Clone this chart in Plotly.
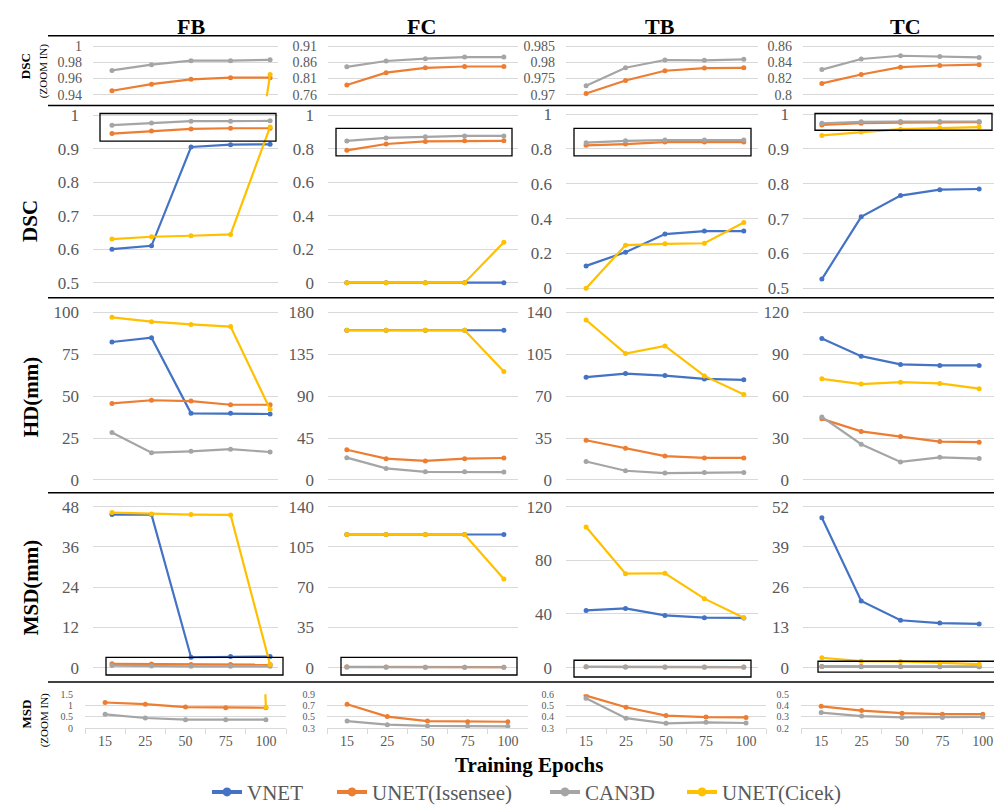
import plotly.graph_objects as go

W, H = 1002, 807

# ---------------- data ----------------
epochs = ["15", "25", "50", "75", "100"]
models = ["VNET", "UNET(Issensee)", "CAN3D", "UNET(Cicek)"]
colors = ["#4472C4", "#ED7D31", "#A5A5A5", "#FFC000"]
regions = ["FB", "FC", "TB", "TC"]

# DSC
dsc_fb_vnet = [0.600, 0.610, 0.905, 0.912, 0.913]
dsc_fb_unet_is = [0.945, 0.953, 0.959, 0.961, 0.961]
dsc_fb_can3d = [0.970, 0.977, 0.982, 0.982, 0.983]
dsc_fb_unet_ci = [0.630, 0.637, 0.640, 0.644, 0.965]

dsc_fc_vnet = [0.0, 0.0, 0.0, 0.0, 0.0]
dsc_fc_unet_is = [0.790, 0.828, 0.843, 0.847, 0.847]
dsc_fc_can3d = [0.846, 0.864, 0.871, 0.876, 0.876]
dsc_fc_unet_ci = [0.0, 0.0, 0.0, 0.0, 0.241]

dsc_tb_vnet = [0.128, 0.207, 0.311, 0.328, 0.328]
dsc_tb_unet_is = [0.821, 0.828, 0.840, 0.840, 0.840]
dsc_tb_can3d = [0.836, 0.847, 0.851, 0.851, 0.851]
dsc_tb_unet_ci = [0.0, 0.247, 0.255, 0.258, 0.377]

dsc_tc_vnet = [0.526, 0.705, 0.766, 0.783, 0.785]
dsc_tc_unet_is = [0.969, 0.974, 0.976, 0.977, 0.977]
dsc_tc_can3d = [0.974, 0.978, 0.979, 0.979, 0.979]
dsc_tc_unet_ci = [0.939, 0.949, 0.957, 0.960, 0.963]

# DSC zoom-in panels for TB and TC (values as drawn in the zoom row)
dsc_zoom_tb_unet_is = [0.9704, 0.9744, 0.9774, 0.9782, 0.9783]
dsc_zoom_tb_can3d = [0.9728, 0.9783, 0.9807, 0.9806, 0.9809]
dsc_zoom_tc_unet_is = [0.814, 0.825, 0.834, 0.836, 0.837]
dsc_zoom_tc_can3d = [0.831, 0.844, 0.848, 0.847, 0.846]

# HD (mm)
hd_fb_vnet = [82.4, 84.9, 39.8, 39.8, 39.4]
hd_fb_unet_is = [45.7, 47.6, 47.1, 44.9, 44.9]
hd_fb_can3d = [28.4, 16.3, 17.1, 18.4, 16.7]
hd_fb_unet_ci = [97.1, 94.5, 92.9, 91.6, 42.2]

hd_fc_vnet = [160.9, 160.9, 160.9, 160.9, 160.9]
hd_fc_unet_is = [32.5, 22.9, 20.5, 22.9, 23.6]
hd_fc_can3d = [24.0, 12.4, 8.8, 8.8, 8.5]
hd_fc_unet_ci = [160.9, 160.9, 160.9, 160.9, 116.5]

hd_tb_vnet = [85.9, 88.9, 87.3, 84.5, 83.7]
hd_tb_unet_is = [33.2, 26.6, 20.0, 18.4, 18.4]
hd_tb_can3d = [15.4, 7.7, 5.8, 6.3, 6.3]
hd_tb_unet_ci = [133.7, 105.7, 112.0, 87.0, 71.4]

hd_tc_vnet = [101.4, 88.7, 82.8, 82.1, 82.1]
hd_tc_unet_is = [43.8, 34.8, 31.1, 27.5, 27.1]
hd_tc_can3d = [45.2, 25.6, 12.9, 16.2, 15.3]
hd_tc_unet_ci = [72.5, 68.7, 70.1, 69.2, 65.4]

# MSD (mm)
msd_fb_vnet = [45.6, 45.6, 3.1, 3.3, 3.3]
msd_fb_unet_is = [1.136, 1.063, 0.932, 0.903, 0.903]
msd_fb_can3d = [0.612, 0.451, 0.379, 0.379, 0.379]
msd_fb_unet_ci = [46.2, 45.8, 45.6, 45.5, 0.92]

msd_fc_vnet = [115.7, 115.7, 115.7, 115.7, 115.7]
msd_fc_unet_is = [0.723, 0.506, 0.426, 0.414, 0.414]
msd_fc_can3d = [0.426, 0.363, 0.340, 0.334, 0.334]
msd_fc_unet_ci = [115.7, 115.7, 115.7, 115.7, 77.1]

msd_tb_vnet = [42.6, 44.1, 38.9, 37.2, 37.0]
msd_tb_unet_is = [0.588, 0.485, 0.412, 0.398, 0.395]
msd_tb_can3d = [0.565, 0.389, 0.343, 0.352, 0.346]
msd_tb_unet_ci = [104.8, 70.0, 70.3, 51.4, 37.2]

msd_tc_vnet = [48.4, 21.5, 15.3, 14.4, 14.1]
msd_tc_unet_is = [0.393, 0.356, 0.333, 0.324, 0.324]
msd_tc_can3d = [0.338, 0.307, 0.295, 0.295, 0.300]
msd_tc_unet_ci = [3.2, 2.1, 2.0, 1.6, 1.1]

# y tick values per panel (row x column)
y_ticks = [
    [[0.94, 0.96, 0.98, 1], [0.76, 0.81, 0.86, 0.91], [0.97, 0.975, 0.98, 0.985], [0.8, 0.82, 0.84, 0.86]],
    [[0.5, 0.6, 0.7, 0.8, 0.9, 1], [0, 0.2, 0.4, 0.6, 0.8, 1], [0, 0.2, 0.4, 0.6, 0.8, 1], [0.5, 0.6, 0.7, 0.8, 0.9, 1]],
    [[0, 25, 50, 75, 100], [0, 45, 90, 135, 180], [0, 35, 70, 105, 140], [0, 30, 60, 90, 120]],
    [[0, 12, 24, 36, 48], [0, 35, 70, 105, 140], [0, 40, 80, 120], [0, 13, 26, 39, 52]],
    [[0, 0.5, 1, 1.5], [0.3, 0.5, 0.7, 0.9], [0.3, 0.4, 0.5, 0.6], [0.2, 0.3, 0.4, 0.5]],
]

row_data = [
    [
        [dsc_fb_vnet, dsc_fb_unet_is, dsc_fb_can3d, dsc_fb_unet_ci],
        [dsc_fc_vnet, dsc_fc_unet_is, dsc_fc_can3d, dsc_fc_unet_ci],
        [None, dsc_zoom_tb_unet_is, dsc_zoom_tb_can3d, None],
        [None, dsc_zoom_tc_unet_is, dsc_zoom_tc_can3d, None],
    ],
    [
        [dsc_fb_vnet, dsc_fb_unet_is, dsc_fb_can3d, dsc_fb_unet_ci],
        [dsc_fc_vnet, dsc_fc_unet_is, dsc_fc_can3d, dsc_fc_unet_ci],
        [dsc_tb_vnet, dsc_tb_unet_is, dsc_tb_can3d, dsc_tb_unet_ci],
        [dsc_tc_vnet, dsc_tc_unet_is, dsc_tc_can3d, dsc_tc_unet_ci],
    ],
    [
        [hd_fb_vnet, hd_fb_unet_is, hd_fb_can3d, hd_fb_unet_ci],
        [hd_fc_vnet, hd_fc_unet_is, hd_fc_can3d, hd_fc_unet_ci],
        [hd_tb_vnet, hd_tb_unet_is, hd_tb_can3d, hd_tb_unet_ci],
        [hd_tc_vnet, hd_tc_unet_is, hd_tc_can3d, hd_tc_unet_ci],
    ],
    [
        [msd_fb_vnet, msd_fb_unet_is, msd_fb_can3d, msd_fb_unet_ci],
        [msd_fc_vnet, msd_fc_unet_is, msd_fc_can3d, msd_fc_unet_ci],
        [msd_tb_vnet, msd_tb_unet_is, msd_tb_can3d, msd_tb_unet_ci],
        [msd_tc_vnet, msd_tc_unet_is, msd_tc_can3d, msd_tc_unet_ci],
    ],
    [
        [msd_fb_vnet, msd_fb_unet_is, msd_fb_can3d, msd_fb_unet_ci],
        [msd_fc_vnet, msd_fc_unet_is, msd_fc_can3d, msd_fc_unet_ci],
        [msd_tb_vnet, msd_tb_unet_is, msd_tb_can3d, msd_tb_unet_ci],
        [msd_tc_vnet, msd_tc_unet_is, msd_tc_can3d, msd_tc_unet_ci],
    ],
]

# ---------------- layout geometry (pixels) ----------------
def fx(v):
    return v / W

def fy(v):
    return 1 - v / H

x_dom_main = [(85, 270), (320, 510), (558, 750), (795, 990)]
x_rng_main = [(-0.48, 4.2), (-0.48, 4.36), (-0.51, 4.36), (-0.48, 4.48)]
x_dom_bottom = [(77, 278), (319, 520), (558, 758), (793, 995)]
y_dom = [
    [(32.5, 82)] * 4,
    [(102.7, 272.7), (102.7, 272.7), (101.7, 278.3), (101.7, 278.3)],
    [(303, 473)] * 4,
    [(500, 663.5)] * 4,
    [(690.5, 725)] * 4,
]
tick_font_size = [14, 17, 17, 17, 10]
tick_standoff = [10, 13, 13, 13, 11]

SERIF = "Liberation Serif"
GRAY_TXT = "#595959"
GRID = "#D9D9D9"

fig = go.Figure()
layout = dict(
    width=W, height=H,
    margin=dict(l=0, r=0, t=0, b=0),
    paper_bgcolor="white", plot_bgcolor="white",
    showlegend=True,
)

for r in range(5):
    for c in range(4):
        idx = r * 4 + c + 1
        xa = "x" if idx == 1 else f"x{idx}"
        ya = "y" if idx == 1 else f"y{idx}"
        ticks = y_ticks[r][c]
        lo, hi = ticks[0], ticks[-1]
        span = hi - lo
        top_px, bot_px = y_dom[r][c]
        pad = 0.03 if r < 4 else 0.0
        hpx = bot_px - top_px
        dom_top = top_px - pad * hpx
        dom_bot = bot_px + pad * hpx
        yax = dict(
            domain=[fy(dom_bot), fy(dom_top)],
            range=[lo - pad * span, hi + pad * span],
            anchor=xa,
            tickmode="array",
            tickvals=ticks,
            ticktext=[f"{v:g}" for v in ticks],
            showgrid=True, gridcolor=GRID, gridwidth=1,
            zeroline=False, showline=False, ticks="",
            tickfont=dict(family=SERIF, size=tick_font_size[r], color=GRAY_TXT),
            ticklabelstandoff=tick_standoff[r],
            fixedrange=True,
        )
        if r < 4:
            x0, x1 = x_dom_main[c]
            xr = x_rng_main[c]
            xax = dict(
                domain=[fx(x0), fx(x1)], range=list(xr), anchor=ya,
                type="category", categoryorder="array", categoryarray=epochs,
                visible=False, showgrid=False, zeroline=False, fixedrange=True,
            )
        else:
            x0, x1 = x_dom_bottom[c]
            xax = dict(
                domain=[fx(x0), fx(x1)], range=[-0.5, 4.5], anchor=ya,
                type="category", categoryorder="array", categoryarray=epochs,
                showgrid=False, zeroline=False,
                showline=True, linecolor=GRID, linewidth=1,
                ticks="outside", tickson="boundaries", ticklen=5, tickcolor=GRID,
                tickfont=dict(family=SERIF, size=14, color=GRAY_TXT),
                ticklabelstandoff=0,
                fixedrange=True,
            )
        layout["xaxis" if idx == 1 else f"xaxis{idx}"] = xax
        layout["yaxis" if idx == 1 else f"yaxis{idx}"] = yax

        for m in range(4):
            vals = row_data[r][c][m]
            if vals is None:
                continue
            fig.add_trace(go.Scatter(
                x=epochs, y=vals, xaxis=xa, yaxis=ya,
                mode="lines+markers",
                line=dict(color=colors[m], width=2.2),
                marker=dict(color=colors[m], size=5),
                name=models[m], showlegend=False, hoverinfo="skip",
            ))

# legend entries (one legend per item, placed like the reference)
legend_px = [199, 324, 537, 674]
for m in range(4):
    lname = "legend" if m == 0 else f"legend{m + 1}"
    fig.add_trace(go.Scatter(
        x=[None], y=[None], xaxis="x", yaxis="y",
        mode="lines+markers",
        line=dict(color=colors[m], width=4),
        marker=dict(color=colors[m], size=9),
        name=models[m], showlegend=True, legend=lname,
    ))
    layout[lname] = dict(
        x=fx(legend_px[m]), y=fy(790), xanchor="left", yanchor="middle",
        orientation="h", bgcolor="rgba(0,0,0,0)", borderwidth=0,
        font=dict(family=SERIF, size=21, color=GRAY_TXT),
        tracegroupgap=0, itemclick=False, itemdoubleclick=False,
    )

# ---------------- annotations ----------------
ann = []
title_x = [183, 413, 652, 897]
for c in range(4):
    ann.append(dict(x=fx(title_x[c]), y=fy(12.5), xref="paper", yref="paper",
                    text=f"<b>{regions[c]}</b>", showarrow=False,
                    xanchor="center", yanchor="middle",
                    font=dict(family=SERIF, size=22, color="black")))

row_labels = [("DSC", 22, 210), ("HD(mm)", 23, 389), ("MSD(mm)", 23, 582)]
for txt, xp, yp in row_labels:
    ann.append(dict(x=fx(xp), y=fy(yp), xref="paper", yref="paper",
                    text=f"<b>{txt}</b>", textangle=-90, showarrow=False,
                    xanchor="center", yanchor="middle",
                    font=dict(family=SERIF, size=21, color="black")))

for main, xp1, yp1, xp2, yp2 in [("DSC", 17, 53, 35, 58), ("MSD", 18, 711, 36, 717)]:
    ann.append(dict(x=fx(xp1), y=fy(yp1), xref="paper", yref="paper",
                    text=f"<b>{main}</b>", textangle=-90, showarrow=False,
                    xanchor="center", yanchor="middle",
                    font=dict(family=SERIF, size=13, color="black")))
    ann.append(dict(x=fx(xp2), y=fy(yp2), xref="paper", yref="paper",
                    text="(ZOOM IN)", textangle=-90, showarrow=False,
                    xanchor="center", yanchor="middle",
                    font=dict(family=SERIF, size=11, color="black")))

ann.append(dict(x=fx(521), y=fy(762), xref="paper", yref="paper",
                text="<b>Training Epochs</b>", showarrow=False,
                xanchor="center", yanchor="middle",
                font=dict(family=SERIF, size=21, color="black")))
layout["annotations"] = ann

# ---------------- shapes ----------------
shapes = []
for yp in [22, 93, 288, 486, 678]:
    shapes.append(dict(type="line", xref="paper", yref="paper",
                       x0=fx(40), x1=fx(1002), y0=fy(yp), y1=fy(yp),
                       line=dict(color="black", width=1.5), layer="above"))

boxes = [
    (92, 101, 268, 129), (328, 116, 504, 144), (566, 116, 743, 144), (807, 101, 984, 118),
    (98, 653, 275, 671), (333, 653, 509, 671), (566, 656, 743, 673), (810, 657, 987, 668),
]
for x0, y0, x1, y1 in boxes:
    shapes.append(dict(type="rect", xref="paper", yref="paper",
                       x0=fx(x0), x1=fx(x1), y0=fy(y1), y1=fy(y0),
                       line=dict(color="black", width=1.3), fillcolor="rgba(0,0,0,0)",
                       layer="above"))
layout["shapes"] = shapes

fig.update_layout(**layout)
fig.write_html("out.html")
